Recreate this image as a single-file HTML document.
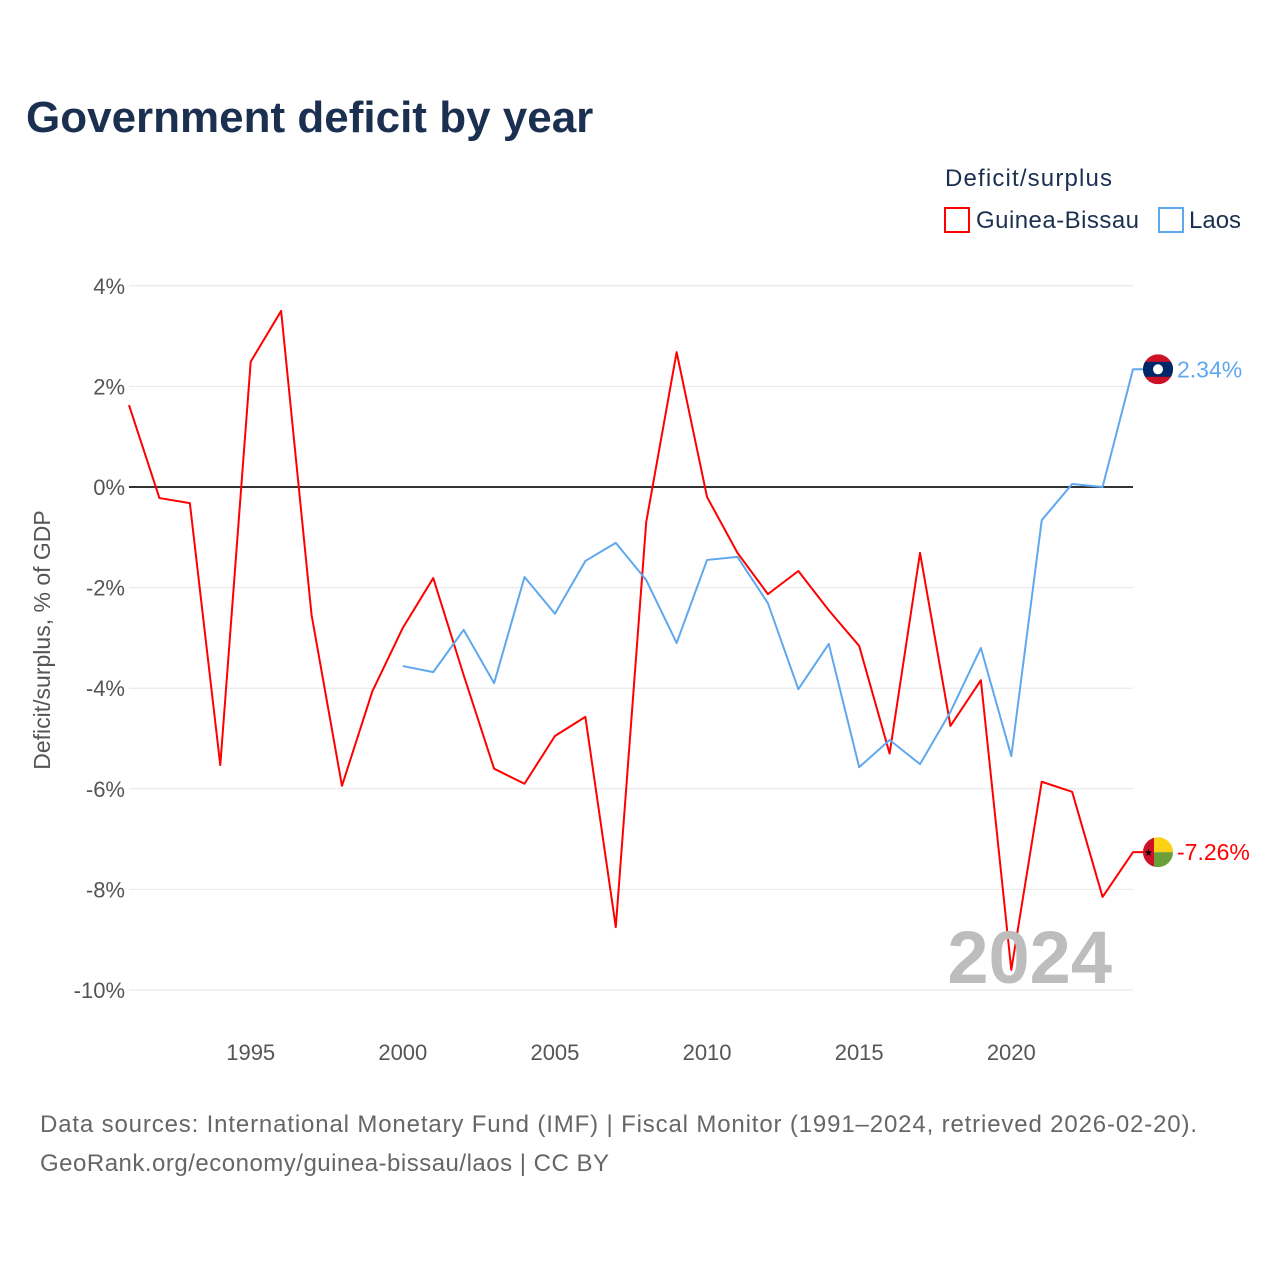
<!DOCTYPE html>
<html><head><meta charset="utf-8"><style>
body{margin:0;background:#fff;font-family:"Liberation Sans",sans-serif;}
svg text{font-family:"Liberation Sans",sans-serif;}
</style></head><body>
<svg id="chart" width="1280" height="1280" xmlns="http://www.w3.org/2000/svg">
<rect width="1280" height="1280" fill="#fff"/>
<text x="26" y="132" font-size="44" font-weight="bold" fill="#1b3050">Government deficit by year</text>
<text x="945" y="186" font-size="24" fill="#1b3050" textLength="167">Deficit/surplus</text>
<g><rect x="945" y="208" width="24" height="24" fill="none" stroke="#f00" stroke-width="2"/><text x="976" y="228" font-size="24" fill="#1b3050" textLength="163">Guinea-Bissau</text></g>
<g><rect x="1159" y="208" width="24" height="24" fill="none" stroke="#5fa8ee" stroke-width="2"/><text x="1189" y="228" font-size="24" fill="#1b3050">Laos</text></g>
<g id="grid"></g>
<g id="series"></g>
<text x="1112" y="983" font-size="74" font-weight="bold" fill="#bdbdbd" text-anchor="end">2024</text>
<text transform="translate(50,640) rotate(-90)" font-size="23" fill="#555" text-anchor="middle">Deficit/surplus, % of GDP</text>
<text x="40" y="1132" font-size="24" fill="#666" textLength="1157">Data sources: International Monetary Fund (IMF) | Fiscal Monitor (1991–2024, retrieved 2026-02-20).</text>
<text x="40" y="1171" font-size="24" fill="#666" textLength="569">GeoRank.org/economy/guinea-bissau/laos | CC BY</text>
</svg>
<script>
const yTicks=[4,2,0,-2,-4,-6,-8,-10];
const xTicks=[1995,2000,2005,2010,2015,2020];
const gbYears=[1991,1992,1993,1994,1995,1996,1997,1998,1999,2000,2001,2002,2003,2004,2005,2006,2007,2008,2009,2010,2011,2012,2013,2014,2015,2016,2017,2018,2019,2020,2021,2022,2023,2024];
const gbValues=[1.63,-0.22,-0.32,-5.53,2.49,3.5,-2.54,-5.94,-4.06,-2.8,-1.81,-3.74,-5.6,-5.9,-4.95,-4.57,-8.75,-0.7,2.68,-0.2,-1.31,-2.13,-1.67,-2.45,-3.16,-5.3,-1.31,-4.75,-3.84,-9.6,-5.86,-6.06,-8.15,-7.26];
const laYears=[2000,2001,2002,2003,2004,2005,2006,2007,2008,2009,2010,2011,2012,2013,2014,2015,2016,2017,2018,2019,2020,2021,2022,2023,2024];
const laValues=[-3.56,-3.68,-2.84,-3.9,-1.79,-2.52,-1.47,-1.11,-1.85,-3.1,-1.45,-1.39,-2.31,-4.02,-3.12,-5.57,-5.03,-5.51,-4.47,-3.2,-5.35,-0.66,0.06,0,2.34];
const NS='http://www.w3.org/2000/svg';
const x=yr=>129+(yr-1991)*(1133-129)/33;
const y=v=>487-v*50.3;
function mk(t,a,p){const e=document.createElementNS(NS,t);for(const k in a)e.setAttribute(k,a[k]);p.appendChild(e);return e;}
const grid=document.getElementById('grid'),ser=document.getElementById('series');
yTicks.forEach(v=>{
 const l=mk('line',{x1:129,x2:1133,y1:y(v),y2:y(v),stroke:v===0?'#333':'#e6e6e6','stroke-width':v===0?2:1},grid);
 
 
 const t=mk('text',{x:125,y:y(v)+8,'font-size':22,fill:'#555','text-anchor':'end'},grid);t.textContent=v+'%';
 
 
});
xTicks.forEach(yr=>{
 const t=mk('text',{x:x(yr),y:1060,'font-size':22,fill:'#555','text-anchor':'middle'},grid);t.textContent=yr;
 
 
});
function line(ys,vs,c,name){
 const p=mk('polyline',{points:ys.map((yr,i)=>x(yr)+','+y(vs[i])).join(' ')+' 1145,'+y(vs[vs.length-1]),fill:'none',stroke:c,'stroke-width':2,'stroke-linejoin':'round'},ser);
 
 
 const lv=vs[vs.length-1],ly=y(lv);
 const t=mk('text',{x:1177,y:ly+8,'font-size':23,fill:c},ser);t.textContent=lv.toFixed(2)+'%';
 
 
 return ly;
}
const gy=line(gbYears,gbValues,'#f00','guinea-bissau-line');
const ly=line(laYears,laValues,'#5fa8ee','laos-line');
// Laos flag marker
const lf=mk('g',{},ser);


mk('clipPath',{id:'cl'},lf);
mk('circle',{cx:1158,cy:ly,r:15},document.getElementById('cl'));
const lg=mk('g',{'clip-path':'url(#cl)'},lf);
mk('rect',{x:1143,y:ly-15,width:30,height:30,fill:'#ce1126'},lg);
mk('rect',{x:1143,y:ly-7.5,width:30,height:15,fill:'#002868'},lg);
mk('circle',{cx:1158,cy:ly,r:5,fill:'#fff'},lg);
// Guinea-Bissau flag marker
const gf=mk('g',{},ser);


mk('clipPath',{id:'cg'},gf);
mk('circle',{cx:1158,cy:gy,r:15},document.getElementById('cg'));
const gg=mk('g',{'clip-path':'url(#cg)'},gf);
mk('rect',{x:1143,y:gy-15,width:30,height:15,fill:'#fcd116'},gg);
mk('rect',{x:1143,y:gy,width:30,height:15,fill:'#6a9f3a'},gg);
mk('rect',{x:1143,y:gy-15,width:11,height:30,fill:'#ce1126'},gg);
const st=mk('text',{x:1148.5,y:gy+4,'font-size':10,fill:'#000','text-anchor':'middle'},gg);st.textContent='★';
</script>
</body></html>
